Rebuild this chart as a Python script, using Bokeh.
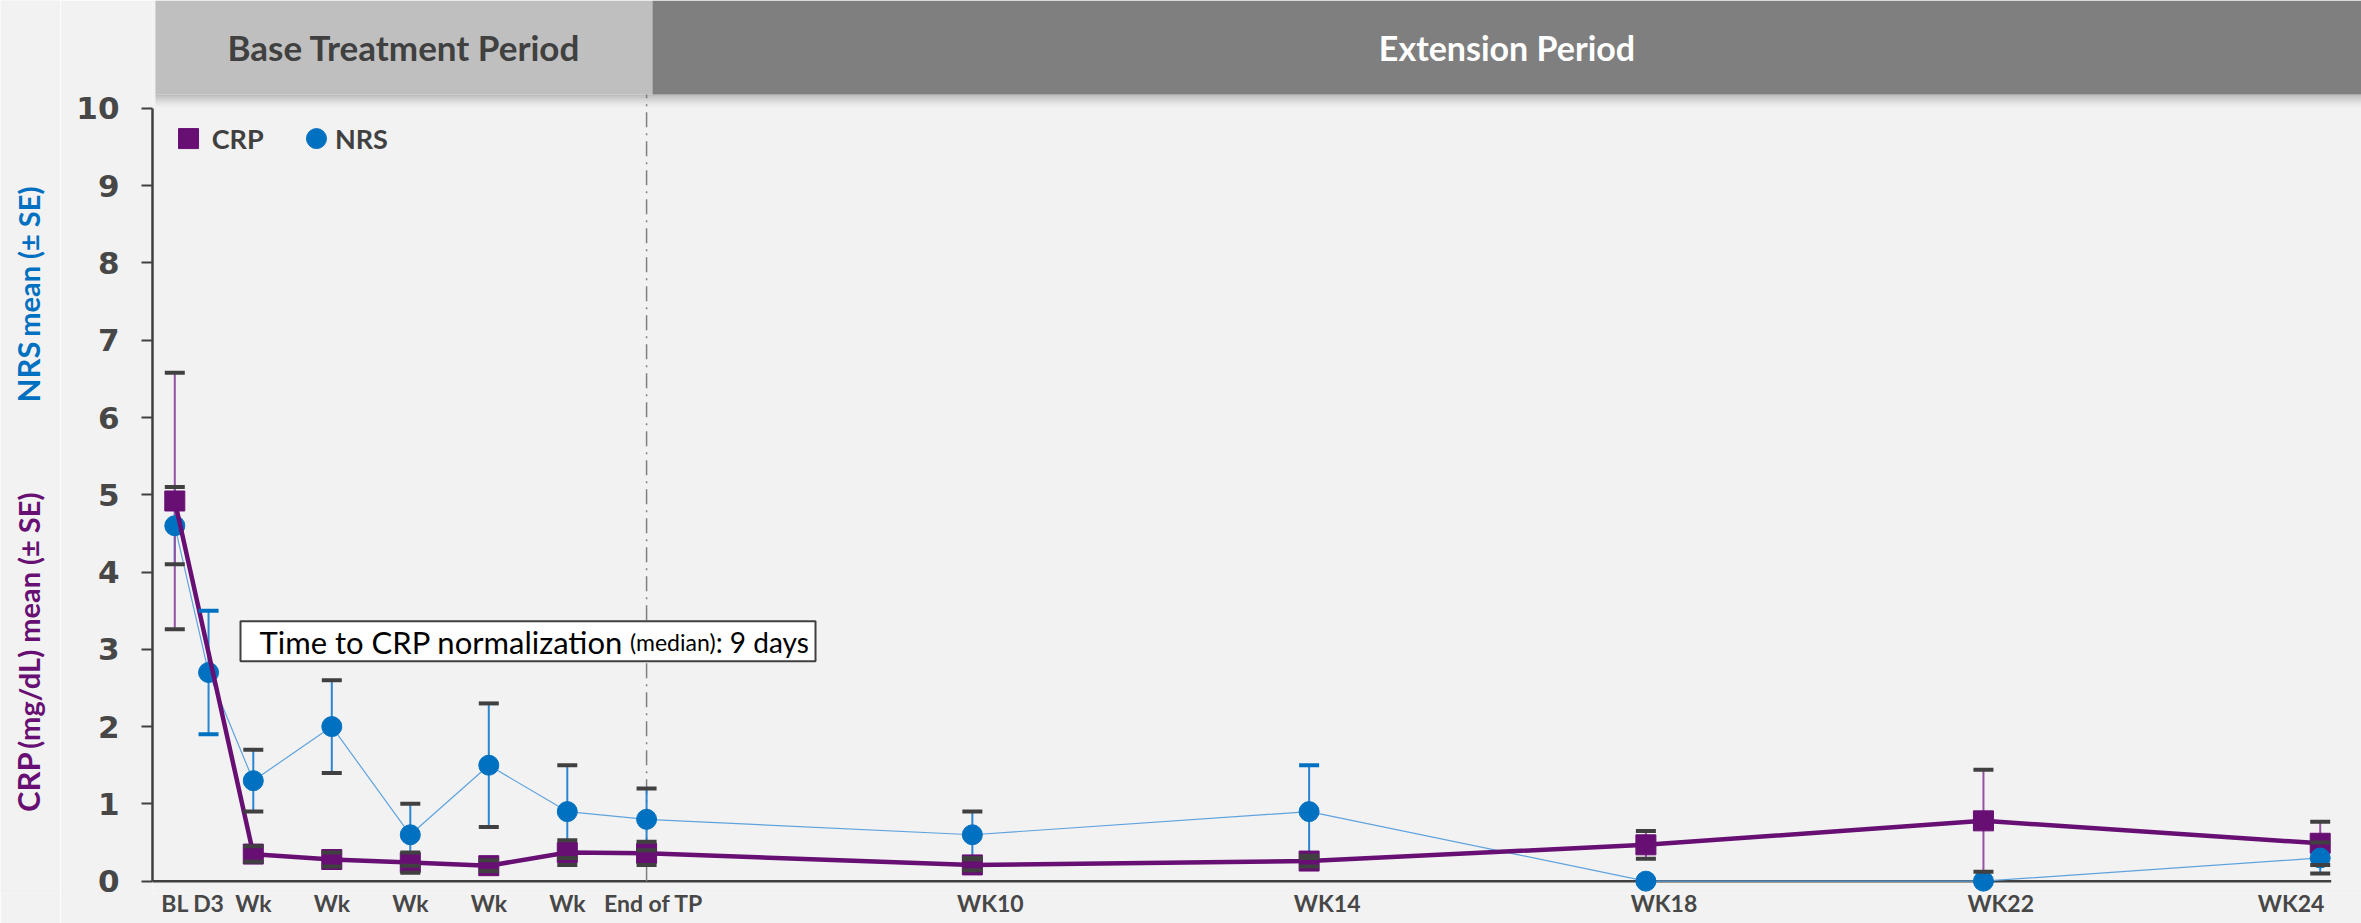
import numpy as np
from bokeh.plotting import figure
from bokeh.layouts import row
from bokeh.models import Range1d, FixedTicker, Label
from bokeh.core.properties import value
from bokeh.embed import file_html
from bokeh.resources import INLINE

# ---- data -------------------------------------------------------------
visits = ["BL", "D3", "Wk", "Wk", "Wk", "Wk", "Wk", "End of TP",
          "WK10", "WK14", "WK18", "WK22", "WK24"]
# position of each visit along the time axis (base-period weeks as unit)
visit_pos = [0.0, 0.43, 1.0, 2.0, 3.0, 4.0, 5.0, 6.01,
             10.16, 14.45, 18.74, 23.04, 27.33]

crp_mean = [4.92, np.nan, 0.35, 0.28, 0.24, 0.20, 0.37, 0.36,
            0.21, 0.26, 0.47, 0.78, 0.49]
crp_se = [1.66, np.nan, 0.10, 0.09, 0.13, 0.07, 0.16, 0.15,
          0.07, 0.07, 0.18, 0.66, 0.28]

nrs_mean = [4.6, 2.7, 1.3, 2.0, 0.6, 1.5, 0.9, 0.8, 0.6, 0.9, 0.0, 0.0, 0.3]
nrs_se = [0.5, 0.8, 0.4, 0.6, 0.4, 0.8, 0.6, 0.4, 0.3, 0.6, 0.0, 0.0, 0.2]

y_ticks = list(range(0, 11))

# ---- style ------------------------------------------------------------
BG = "#F2F2F2"
PURPLE = "#670F73"
PURPLE_BAR = "#9353A3"
BLUE = "#0070C0"
BLUE_LINE = "#5FA3DE"
BLUE_BAR = "#2A86D2"
DARK = "#404040"
AXIS_GREY = "#474747"

# small horizontal nudges of the x tick labels
label_shift = [0, 0, 0, 0, 0, 0, 0, 0.09, 0.23, 0.23, 0.23, 0.22, -0.37]
nrs_upper_cap_color = [DARK, BLUE, DARK, DARK, DARK, DARK, DARK, DARK,
                       DARK, BLUE, DARK, DARK, DARK]
nrs_lower_cap_color = [DARK, BLUE, DARK, DARK, DARK, DARK, DARK, DARK,
                       DARK, DARK, DARK, DARK, DARK]

TOTAL_W, TOTAL_H = 2361, 923
TITLE_W = 60

X0, X1 = -0.284, 27.856
Y0, Y1 = -0.16, 11.397
HEADER_BOTTOM = 10.18
PERIOD_SPLIT = 6.085

# ---- strip holding the rotated y titles -------------------------------
t = figure(width=TITLE_W, height=TOTAL_H, output_backend="svg", toolbar_location=None,
           x_range=Range1d(0, TITLE_W), y_range=Range1d(0, TOTAL_H),
           x_axis_type=None, y_axis_type=None,
           min_border_left=0, min_border_right=0, min_border_top=0, min_border_bottom=0)
t.background_fill_color = BG
t.border_fill_color = BG
t.outline_line_color = None
t.grid.visible = False

# (text, centre measured from the bottom edge, font size, colour)
title_parts = [("NRS", 539, 31, BLUE),
               ("mean (± SE)", 653, 29, BLUE),
               ("CRP", 115, 31, PURPLE),
               ("(mg/dL) mean (± SE)", 282, 29, PURPLE)]
BASELINE_X = 38
for txt, yc, fs, col in title_parts:
    t.text(x=[BASELINE_X - 0.35 * fs], y=[yc], text=[txt], angle=np.pi / 2,
           text_font=value("Lato"), text_font_style="bold",
           text_font_size=value(f"{fs}px"), text_color=col,
           text_align="center", text_baseline="middle")

# ---- main chart -------------------------------------------------------
p = figure(width=TOTAL_W - TITLE_W, height=TOTAL_H, output_backend="svg",
           toolbar_location=None,
           x_range=Range1d(X0, X1), y_range=Range1d(Y0, Y1),
           min_border_left=152 - TITLE_W, min_border_right=0, min_border_top=0,
           min_border_bottom=30)
p.background_fill_color = BG
p.border_fill_color = BG
p.outline_line_color = None
p.grid.visible = False

yax = p.yaxis[0]
yax.ticker = FixedTicker(ticks=y_ticks)
yax.bounds = (0, 10)
yax.axis_line_color = DARK
yax.axis_line_width = 2.5
yax.major_tick_line_color = DARK
yax.major_tick_line_width = 2
yax.major_tick_in = 0
yax.major_tick_out = 11
yax.minor_tick_line_color = None
yax.major_label_standoff = 22
yax.major_label_text_font = "DejaVu Sans"
yax.major_label_text_font_style = "bold"
yax.major_label_text_font_size = "31px"
yax.major_label_text_color = AXIS_GREY

tick_pos = [v + s for v, s in zip(visit_pos, label_shift)]
xax = p.xaxis[0]
xax.ticker = FixedTicker(ticks=tick_pos)
xax.major_label_overrides = {tp: lab for tp, lab in zip(tick_pos, visits)}
xax.axis_line_color = None
xax.major_tick_line_color = None
xax.minor_tick_line_color = None
xax.major_tick_in = 0
xax.major_tick_out = 0
xax.major_label_standoff = -5
xax.major_label_text_font = "Lato"
xax.major_label_text_font_style = "bold"
xax.major_label_text_font_size = "23px"
xax.major_label_text_color = AXIS_GREY

# x axis baseline at zero
p.segment(x0=[X0], y0=[0], x1=[visit_pos[-1] + 0.14], y1=[0],
          line_color=DARK, line_width=2.5)

# ---- period header ----------------------------------------------------
for i in range(8):
    p.quad(left=[-0.246], right=[X1], top=[HEADER_BOTTOM - i * 0.022],
           bottom=[HEADER_BOTTOM - (i + 1) * 0.022],
           fill_color="black", fill_alpha=0.22 * (1 - i / 8) ** 1.5,
           line_color=None)
p.quad(left=[-0.246], right=[PERIOD_SPLIT], bottom=[HEADER_BOTTOM], top=[Y1],
       fill_color="#BFBFBF", line_color=None)
p.quad(left=[PERIOD_SPLIT], right=[X1], bottom=[HEADER_BOTTOM], top=[Y1],
       fill_color="#7F7F7F", line_color=None)
p.add_layout(Label(x=(-0.246 + PERIOD_SPLIT) / 2, y=10.79, text="Base Treatment Period",
                   text_font="Lato", text_font_style="bold", text_font_size="35px",
                   text_color=DARK, text_align="center", text_baseline="middle"))
p.add_layout(Label(x=(PERIOD_SPLIT + X1) / 2, y=10.79, text="Extension Period",
                   text_font="Lato", text_font_style="bold", text_font_size="34px",
                   text_color="white", text_align="center", text_baseline="middle"))

# end of treatment period marker
p.segment(x0=[visit_pos[7]], y0=[0], x1=[visit_pos[7]], y1=[HEADER_BOTTOM],
          line_color="#7F7F7F", line_width=1.5, line_dash="15 6 2 6")

# ---- series -----------------------------------------------------------
vx = np.array(visit_pos)
cm = np.array(crp_mean)
cs = np.array(crp_se)
nm = np.array(nrs_mean)
ns = np.array(nrs_se)
crp_ok = ~np.isnan(cm)
nrs_bar = ns > 0

# NRS line and error bars
p.line(vx, nm, line_color=BLUE_LINE, line_width=1.2)
p.segment(x0=vx[nrs_bar], y0=(nm - ns)[nrs_bar], x1=vx[nrs_bar], y1=(nm + ns)[nrs_bar],
          line_color=BLUE_BAR, line_width=2)

# CRP error bars and squares
p.segment(x0=vx[crp_ok], y0=(cm - cs)[crp_ok], x1=vx[crp_ok], y1=(cm + cs)[crp_ok],
          line_color=PURPLE_BAR, line_width=2)
p.scatter(vx[crp_ok], cm[crp_ok], marker="square", size=20,
          fill_color=PURPLE, line_color=PURPLE)

# NRS points
p.scatter(vx, nm, marker="circle", size=20, fill_color=BLUE, line_color=BLUE)

# CRP line
p.line(vx[crp_ok], cm[crp_ok], line_color=PURPLE, line_width=4.5, line_join="round")

# error bar caps
p.rect(x=vx[crp_ok], y=(cm + cs)[crp_ok], width=20, height=4,
       width_units="screen", height_units="screen", fill_color=DARK, line_color=None)
p.rect(x=vx[crp_ok], y=(cm - cs)[crp_ok], width=20, height=4,
       width_units="screen", height_units="screen", fill_color=DARK, line_color=None)
p.rect(x=vx[nrs_bar], y=(nm + ns)[nrs_bar], width=20, height=4,
       width_units="screen", height_units="screen",
       fill_color=list(np.array(nrs_upper_cap_color)[nrs_bar]), line_color=None)
p.rect(x=vx[nrs_bar], y=(nm - ns)[nrs_bar], width=20, height=4,
       width_units="screen", height_units="screen",
       fill_color=list(np.array(nrs_lower_cap_color)[nrs_bar]), line_color=None)

# ---- legend -----------------------------------------------------------
LEG_Y = 9.61
p.scatter([0.175], [LEG_Y], marker="square", size=20, fill_color=PURPLE, line_color=PURPLE)
p.add_layout(Label(x=0.47, y=LEG_Y, text="CRP", text_font="Lato", text_font_style="bold",
                   text_font_size="27px", text_color=DARK, text_baseline="middle"))
p.scatter([1.805], [LEG_Y], marker="circle", size=20, fill_color=BLUE, line_color=BLUE)
p.add_layout(Label(x=2.04, y=LEG_Y, text="NRS", text_font="Lato", text_font_style="bold",
                   text_font_size="27px", text_color=DARK, text_baseline="middle"))

# ---- note box ---------------------------------------------------------
p.quad(left=[0.837], right=[8.162], bottom=[2.846], top=[3.364],
       fill_color="white", line_color=DARK, line_width=2)
note_parts = [("Time to CRP normalization", 1.079, "31px"),
              ("(median)", 5.80, "23px"),
              (": 9 days", 6.89, "28px")]
for txt, xs, fs in note_parts:
    p.add_layout(Label(x=xs, y=3.09, text=txt, text_font="Lato", text_font_size=fs,
                       text_color="black", text_baseline="alphabetic"))

open("out.html", "w").write(file_html(row(t, p), INLINE))
